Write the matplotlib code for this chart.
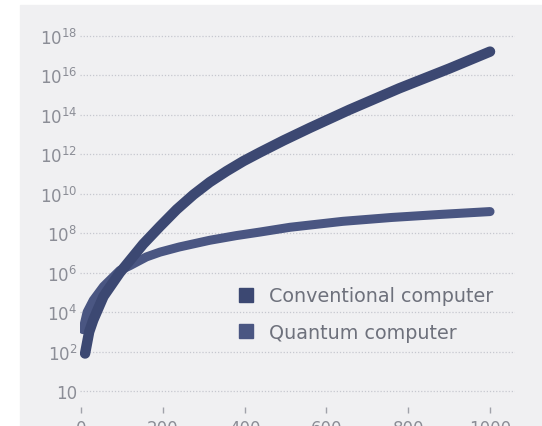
import matplotlib
matplotlib.use("Agg")
import matplotlib.pyplot as plt
from matplotlib.lines import Line2D
from matplotlib.patches import Rectangle

# Key sizes (bits) vs. operations needed
conv_n = [10, 20, 30, 55, 95, 152, 193, 234, 275, 315, 356, 397, 438, 495,
          560, 656, 778, 900, 1000]
conv_ops = [8e1, 1e3, 4e3, 6.3e4, 1e6, 2.8e7, 2.2e8, 1.6e9, 9e9, 3.9e10, 1.4e11,
            4.5e11, 1.26e12, 5e12, 2.2e13, 1.8e14, 2.2e15, 2.2e16, 1.6e17]
quant_n = [5, 15, 30, 55, 95, 120, 160, 193, 240, 315, 380, 438, 511, 640, 760,
           880, 1000]
quant_ops = [1.3e3, 1e4, 4e4, 2e5, 1.3e6, 2.3e6, 6.3e6, 1.1e7, 2e7, 4.4e7, 7.6e7,
             1.15e8, 2e8, 4e8, 6.3e8, 9e8, 1.25e9]

y_ticks = [1e0, 1e2, 1e4, 1e6, 1e8, 1e10, 1e12, 1e14, 1e16, 1e18]
y_labels = ["10"] + [r"$\mathregular{10^{%d}}$" % e for e in range(2, 19, 2)]
x_ticks = [0, 200, 400, 600, 800, 1000]
labels = ["Conventional computer", "Quantum computer"]

W, H = 542, 427
plt.rcParams["font.family"] = ["DejaVu Sans"]
fig = plt.figure(figsize=(W / 100, H / 100), dpi=100)
fig.patches.append(Rectangle((20 / W, 0), 1 - 20 / W, 1 - 6 / H,
                             transform=fig.transFigure, color="#f0f0f2", zorder=-10))

ax = fig.add_axes([80 / W, 1 - 398 / H, 435 / W, 369 / H])
ax.set_facecolor("none")
ax.set_yscale("log")

c_conv = "#3c4872"
c_quant = "#4a5682"
ax.plot(quant_n, quant_ops, color=c_quant, lw=6.5, solid_capstyle="round",
        solid_joinstyle="round", zorder=3)
ax.plot(conv_n, conv_ops, color=c_conv, lw=7.5, solid_capstyle="round",
        solid_joinstyle="round", zorder=4)

ax.set_xlim(-2.4, 1061)
ax.set_ylim(10 ** -0.3, 10 ** 18.4)
ax.set_yticks(y_ticks)
ax.set_yticklabels(y_labels)
ax.minorticks_off()
ax.set_xticks(x_ticks)
ax.grid(axis="y", color="#c6c8cf", lw=0.9, ls=(0, (1, 1.5)))
for s in ax.spines.values():
    s.set_visible(False)
ax.spines["bottom"].set_position(("outward", 7))
ax.tick_params(axis="y", length=0, pad=2, labelsize=12, labelcolor="#8b8d96")
ax.tick_params(axis="x", length=4, width=1, color="#a0a2aa", pad=5,
               labelsize=12, labelcolor="#8b8d96")

handles = [Line2D([], [], marker="s", ls="none", markersize=9.5, color=c_conv),
           Line2D([], [], marker="s", ls="none", markersize=9.5, color=c_quant)]
leg = ax.legend(handles, labels, loc="upper left", bbox_to_anchor=(223 / W, 1 - 274 / H),
                bbox_transform=fig.transFigure, frameon=False, fontsize=13.8,
                handletextpad=0.71, labelspacing=0.9, handlelength=1.0,
                borderpad=0.2)
for t in leg.get_texts():
    t.set_color("#6e717c")

fig.savefig("out.png", dpi=100)
